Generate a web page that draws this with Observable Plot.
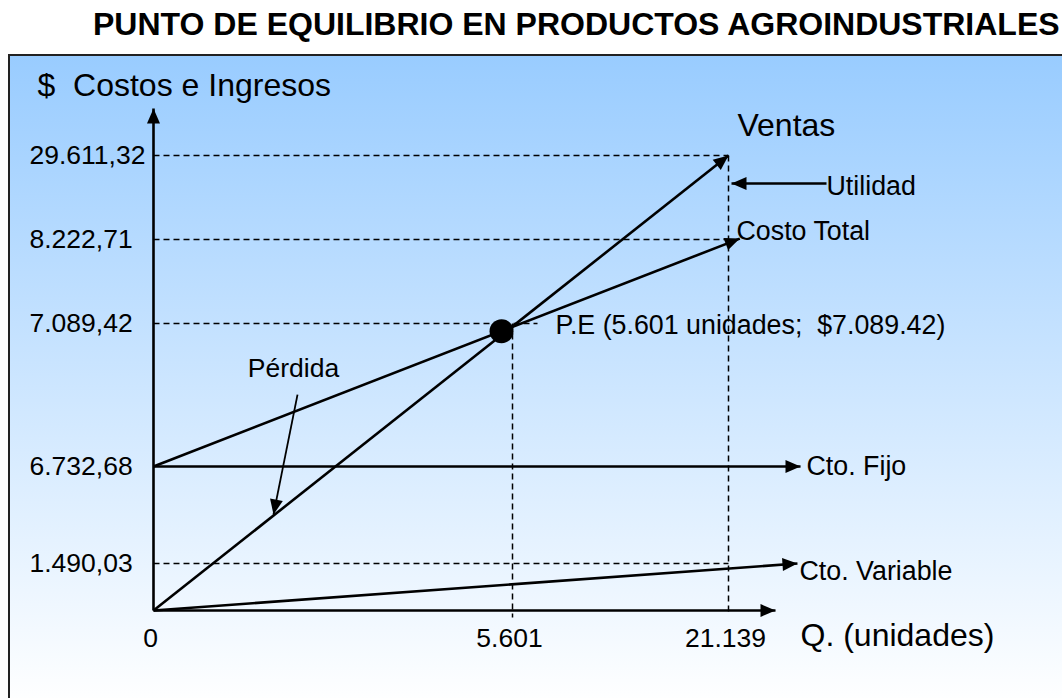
<!DOCTYPE html>
<html><head><meta charset="utf-8">
<script src="https://cdn.jsdelivr.net/npm/d3@7"></script>
<script src="https://cdn.jsdelivr.net/npm/@observablehq/plot@0.6"></script>
<style>
html,body{margin:0;padding:0;background:#fff;overflow:hidden;width:1062px;height:698px;}
#title{position:absolute;left:93px;top:6px;font:bold 32px "Liberation Sans",Arial,sans-serif;white-space:nowrap;color:#000;}
#chart{position:absolute;left:8px;top:54px;border-left:2px solid #222;border-top:2px solid #222;width:1060px;height:650px;background:linear-gradient(to bottom,#99CCFF 0%,#FFFFFF 100%);}
#chart svg{display:block;}
</style></head><body>
<div id="title">PUNTO DE EQUILIBRIO EN PRODUCTOS AGROINDUSTRIALES</div>
<div id="chart"></div>
<script>
// ---- data ----
const qTicks = [0, 5601, 21139];
const qTickLabels = ["0", "5.601", "21.139"];
const usdTicks = [29611.32, 8222.71, 7089.42, 6732.68, 1490.03];
const usdTickLabels = ["29.611,32", "8.222,71", "7.089,42", "6.732,68", "1.490,03"];
// schematic (non-proportional) scale breakpoints
const qBreaks = [0, 5601, 21139];
const usdBreaks = [0, 1490.03, 6732.68, 7089.42, 8222.71, 29611.32];

// lines (start -> end)
const ventasQ = [0, 21139], ventasUSD = [0, 29611.32];
const costoTotalQ = [0, 21950], costoTotalUSD = [6732.68, 8450];
const costoFijoQ = [0, 26320], costoFijoUSD = [6732.68, 6732.68];
const costoVarQ = [0, 26100], costoVarUSD = [0, 1490.03];
const axisEndQ = 24520, axisEndUSD = 41578;
// break-even point
const peQ = [5430], peUSD = [7070];
// dashed guides
const guideQ1 = [0, 0, 0, 0, 5601, 21139];
const guideUSD1 = [29611.32, 8222.71, 7089.42, 1490.03, 7089.42, 29611.32];
const guideQ2 = [21139, 21139, 7400, 21139, 5601, 21139];
const guideUSD2 = [29611.32, 8222.71, 7089.42, 1490.03, -222, -160];
// annotation arrows
const noteArrowQ1 = [28189, 2247], noteArrowUSD1 = [22482, 6912];
const noteArrowQ2 = [21355, 1872], noteArrowUSD2 = [22482, 4138];
// labels
const bigLabels = ["Ventas", "Q. (unidades)", "$\u00a0 Costos e Ingresos"];
const bigLabelQ = [21786, 26319, -1810];
const bigLabelUSD = [37250, -793, 47437];
const labels = ["Utilidad", "Costo Total", "P.E (5.601 unidades;\u00a0 $7.089.42)", "Cto. Fijo", "Cto. Variable"];
const labelQ = [28189, 21715, 8694, 26750, 26247];
const labelUSD = [21718, 10260, 7084, 6732.68, 1236];
const lossLabel = ["Pérdida"], lossQ = [2184], lossUSD = [6977];

const tickMapX = new Map(qTicks.map((d, i) => [d, qTickLabels[i]]));
const tickMapY = new Map(usdTicks.map((d, i) => [d, usdTickLabels[i]]));
const idx = (a) => a.map((_, i) => i);

const font = "'Liberation Sans', Arial, Helvetica, sans-serif";

const seriesLines = [
  [ventasQ, ventasUSD], [costoTotalQ, costoTotalUSD], [costoFijoQ, costoFijoUSD], [costoVarQ, costoVarUSD]
];
const lineData = seriesLines.map(([q, u]) => ({x1: q[0], y1: u[0], x2: q[1], y2: u[1]}));
const axisData = [{x1: 0, y1: 0, x2: axisEndQ, y2: 0}, {x1: 0, y1: 0, x2: 0, y2: axisEndUSD}];

const chart = Plot.plot({
  width: 1052, height: 642,
  marginLeft: 143, marginBottom: 88, marginTop: 0, marginRight: 0,
  style: {fontFamily: font, background: "transparent", overflow: "visible", color: "#000"},
  x: {type: "linear", domain: qBreaks, range: [143, 502, 718], axis: null},
  y: {type: "linear", domain: usdBreaks, range: [554, 507, 410, 267, 183, 99], axis: null},
  marks: [
    Plot.link(idx(guideQ1), {x1: (i) => guideQ1[i], y1: (i) => guideUSD1[i], x2: (i) => guideQ2[i], y2: (i) => guideUSD2[i],
      stroke: "#000", strokeWidth: 1.5, strokeDasharray: "6,4"}),
    Plot.link(axisData, {x1: "x1", y1: "y1", x2: "x2", y2: "y2", stroke: "#000", strokeWidth: 2.6, markerEnd: "arrow"}),
    Plot.link(lineData, {x1: "x1", y1: "y1", x2: "x2", y2: "y2", stroke: "#000", strokeWidth: 2.6, markerEnd: "arrow"}),
    Plot.link([0], {x1: () => noteArrowQ1[0], y1: () => noteArrowUSD1[0], x2: () => noteArrowQ2[0], y2: () => noteArrowUSD2[0],
      stroke: "#000", strokeWidth: 2.6, markerEnd: "arrow"}),
    Plot.link([1], {x1: () => noteArrowQ1[1], y1: () => noteArrowUSD1[1], x2: () => noteArrowQ2[1], y2: () => noteArrowUSD2[1],
      stroke: "#000", strokeWidth: 1.8, markerEnd: "arrow"}),
    Plot.dot(idx(peQ), {x: (i) => peQ[i], y: (i) => peUSD[i], r: 12, fill: "#000", stroke: "none"}),
    Plot.axisY(usdTicks, {tickSize: 0, tickPadding: 124, textAnchor: "start", fontSize: 26.5,
      tickFormat: (d) => tickMapY.get(d), fill: "#000"}),
    Plot.axisX(qTicks, {tickSize: 0, tickPadding: 18, dx: -3, fontSize: 26.5,
      tickFormat: (d) => tickMapX.get(d), fill: "#000"}),
    Plot.text(idx(bigLabels), {x: (i) => bigLabelQ[i], y: (i) => bigLabelUSD[i], text: (i) => bigLabels[i],
      textAnchor: "start", lineAnchor: "middle", fontSize: 32, fill: "#000"}),
    Plot.text(idx(labels), {x: (i) => labelQ[i], y: (i) => labelUSD[i], text: (i) => labels[i],
      textAnchor: "start", lineAnchor: "middle", fontSize: 26.8, fill: "#000"}),
    Plot.text(idx(lossLabel), {x: (i) => lossQ[i], y: (i) => lossUSD[i], text: (i) => lossLabel[i],
      textAnchor: "middle", lineAnchor: "middle", fontSize: 26.5, fill: "#000"})
  ]
});

// filled triangular arrowheads
d3.select(chart).selectAll("marker").each(function () {
  const m = d3.select(this);
  m.attr("markerUnits", "userSpaceOnUse").attr("viewBox", "-16 -8 16 16")
   .attr("markerWidth", 16).attr("markerHeight", 16)
   .attr("fill", "#000").attr("stroke", "none");
  m.selectAll("*").remove();
  m.append("path").attr("d", "M-15,-6.5L0,0L-15,6.5Z");
});

document.getElementById("chart").appendChild(chart);
</script>
</body></html>
